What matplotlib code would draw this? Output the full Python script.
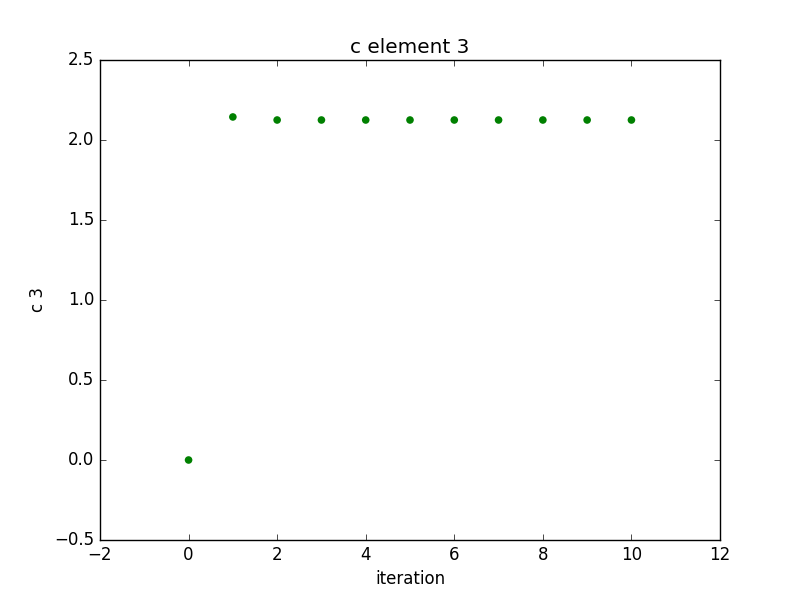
import matplotlib
matplotlib.use("Agg")
import matplotlib.pyplot as plt

plt.style.use("classic")

iterations = [0, 1, 2, 3, 4, 5, 6, 7, 8, 9, 10]
c3_values = [0.0, 2.144, 2.125, 2.125, 2.125, 2.125, 2.125, 2.125, 2.125, 2.125, 2.125]

fig = plt.figure(figsize=(8, 6), dpi=100)
ax = fig.add_subplot(111)
ax.scatter(iterations, c3_values, c="green", edgecolors="none", s=30)
ax.set_xlim(-2, 12)
ax.set_ylim(-0.5, 2.5)
ax.set_title("c element 3")
ax.set_xlabel("iteration")
ax.set_ylabel("c 3")

fig.savefig("out.png", dpi=100)
